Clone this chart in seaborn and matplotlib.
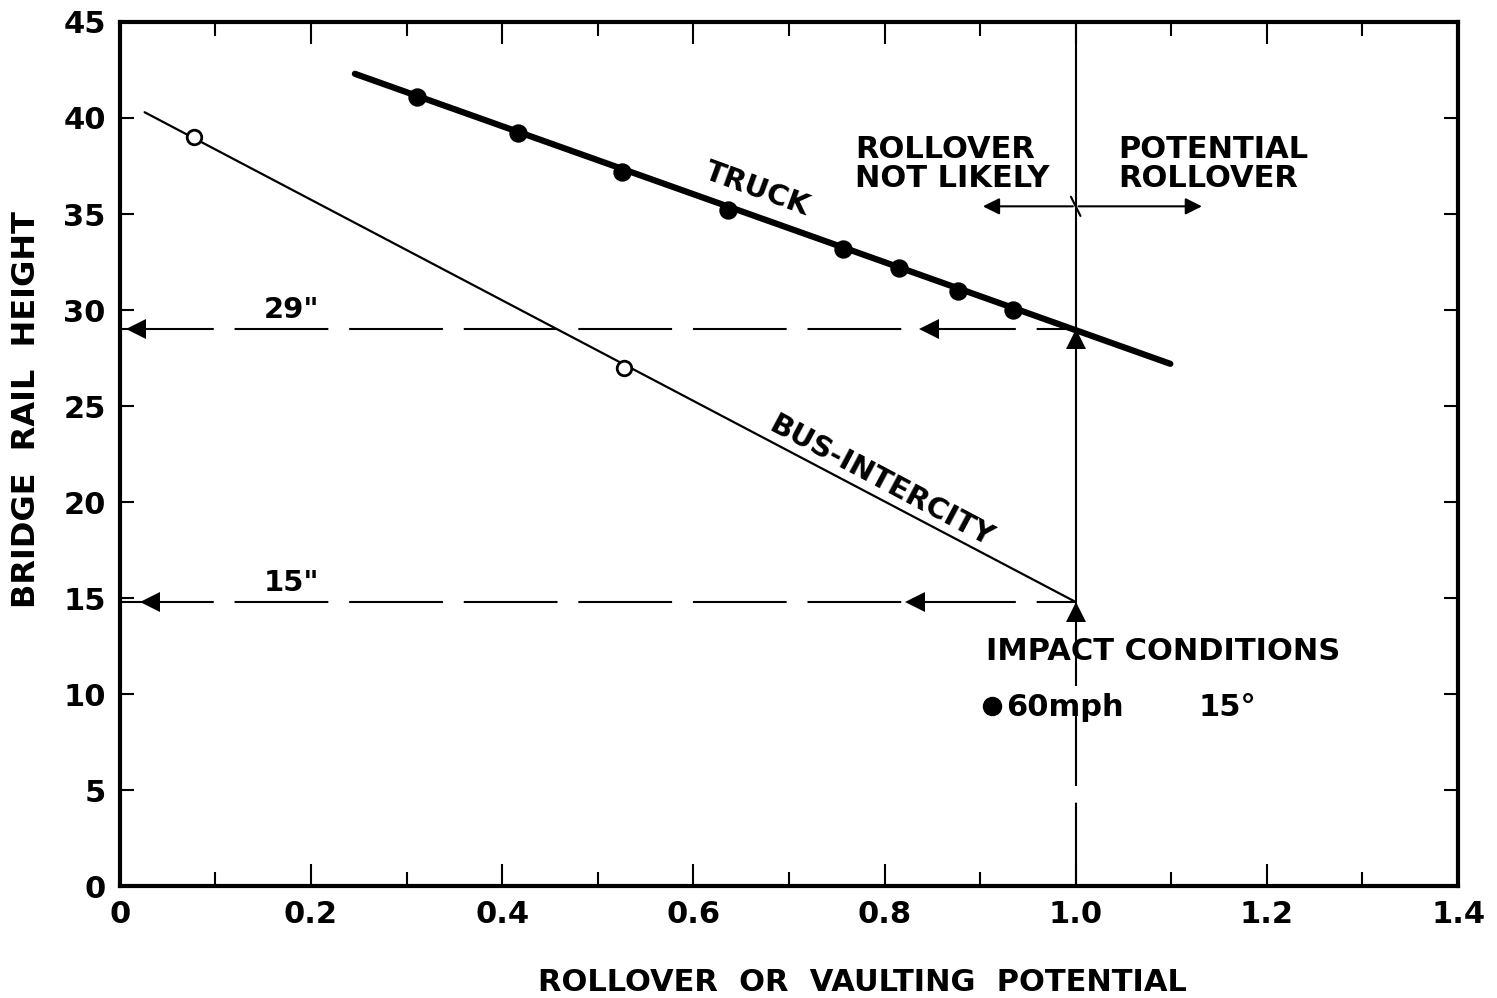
import matplotlib
matplotlib.use("Agg")
import matplotlib.pyplot as plt
import numpy as np
import pandas as pd
import seaborn as sns

# data
truck_x = [0.311, 0.417, 0.525, 0.636, 0.757, 0.815, 0.877, 0.934]
truck_y = [41.1, 39.2, 37.2, 35.2, 33.2, 32.2, 31.0, 30.0]
truck_line_x = [0.246, 1.099]
truck_line_y = [42.3, 27.2]

bus_x = [0.078, 0.528]
bus_y = [39.0, 27.0]
bus_line_x = [0.026, 1.0]
bus_line_y = [40.3, 14.8]

ref_heights = [29, 14.8]
ref_labels = ['29"', '15"']
x_ticks = [0, 0.2, 0.4, 0.6, 0.8, 1.0, 1.2, 1.4]
x_tick_labels = ["0", "0.2", "0.4", "0.6", "0.8", "1.0", "1.2", "1.4"]
y_ticks = [0, 5, 10, 15, 20, 25, 30, 35, 40, 45]

sns.set_style("ticks")
plt.rcParams["font.family"] = ["DejaVu Sans"]
plt.rcParams["text.color"] = "black"
plt.rcParams["axes.labelcolor"] = "black"
plt.rcParams["xtick.color"] = "black"
plt.rcParams["ytick.color"] = "black"

fig = plt.figure(figsize=(14.97, 9.98), dpi=100)
ax = fig.add_axes([0.080, 0.112, 0.894, 0.866])

truck_df = pd.DataFrame({"x": truck_x, "y": truck_y})
bus_df = pd.DataFrame({"x": bus_x, "y": bus_y})

# lines
sns.lineplot(x=truck_line_x, y=truck_line_y, color="black", lw=4.5, ax=ax)
sns.lineplot(x=bus_line_x, y=bus_line_y, color="black", lw=1.6, ax=ax)

# points
sns.scatterplot(data=truck_df, x="x", y="y", s=150, color="black",
                edgecolor="black", zorder=5, ax=ax)
sns.scatterplot(data=bus_df, x="x", y="y", s=110, facecolor="white",
                edgecolor="black", linewidth=2, zorder=5, ax=ax)

# dashed reference lines with arrows
for h, lab, tip_l, tip_m in zip(ref_heights, ref_labels, [0.005, 0.02], [0.835, 0.82]):
    ax.plot([0, 1.0], [h, h], color="black", lw=1.5, dashes=(45, 10))
    ax.plot([tip_l + 0.012], [h], marker="<", color="black", ms=14, mew=0)
    ax.plot([tip_m + 0.012], [h], marker="<", color="black", ms=14, mew=0)
    ax.plot([1.0], [h - 0.5], marker="^", color="black", ms=14, mew=0)
    ax.text(0.18, h + 0.25, lab, fontsize=21, fontweight="bold", ha="center", va="bottom")

# vertical line at 1.0
ax.plot([1.0, 1.0], [14.8, 45], color="black", lw=1.5)
ax.plot([1.0, 1.0], [0, 14.8], color="black", lw=1.5, dashes=(40, 8))

# rollover arrows
ax.annotate("", xy=(0.9, 35.4), xytext=(1.0, 35.4),
            arrowprops=dict(arrowstyle="-|>", color="black", lw=1.5, mutation_scale=25))
ax.annotate("", xy=(1.135, 35.4), xytext=(1.0, 35.4),
            arrowprops=dict(arrowstyle="-|>", color="black", lw=1.5, mutation_scale=25))
ax.plot([0.995, 1.005], [35.9, 34.9], color="black", lw=1.5)

# text annotations
ax.text(0.769, 37.6, "ROLLOVER\nNOT LIKELY", fontsize=22, fontweight="semibold",
        ha="left", va="center", linespacing=1.0)
ax.text(1.044, 37.6, "POTENTIAL\nROLLOVER", fontsize=22, fontweight="semibold",
        ha="left", va="center", linespacing=1.0)
ax.text(0.667, 36.3, "TRUCK", fontsize=21, fontweight="bold", rotation=-20,
        ha="center", va="center")
ax.text(0.797, 21.1, "BUS-INTERCITY", fontsize=21, fontweight="bold", rotation=-28,
        ha="center", va="center")
ax.text(0.906, 12.2, "IMPACT CONDITIONS", fontsize=22, fontweight="semibold",
        ha="left", va="center")
ax.plot([0.912], [9.4], marker="o", color="black", ms=13)
ax.text(0.927, 9.3, "60mph", fontsize=22, fontweight="bold", ha="left", va="center")
ax.text(1.128, 9.3, "15°", fontsize=22, fontweight="bold", ha="left", va="center")

# axes
ax.set_xlim(0, 1.4)
ax.set_ylim(0, 45)
ax.set_xticks(x_ticks)
ax.set_xticklabels(x_tick_labels)
ax.set_xticks(np.arange(0.1, 1.4, 0.2), minor=True)
ax.set_yticks(y_ticks)
ax.tick_params(axis="both", which="major", direction="in", top=True, right=True,
               labelsize=22, width=1.5, pad=10)
ax.tick_params(axis="x", which="major", length=16)
ax.tick_params(axis="y", which="major", length=10)
ax.tick_params(axis="x", which="minor", direction="in", top=True, length=10, width=1.5)
for lab in ax.get_xticklabels() + ax.get_yticklabels():
    lab.set_fontweight("bold")
for sp in ax.spines.values():
    sp.set_visible(True)
    sp.set_linewidth(3)
    sp.set_color("black")

ax.set_xlabel("ROLLOVER  OR  VAULTING  POTENTIAL", fontsize=22, fontweight="semibold")
ax.xaxis.set_label_coords(0.555, -0.095)
ax.set_ylabel("BRIDGE  RAIL  HEIGHT", fontsize=23, fontweight="semibold")
ax.yaxis.set_label_coords(-0.058, 0.551)

fig.savefig("out.png", dpi=100)
